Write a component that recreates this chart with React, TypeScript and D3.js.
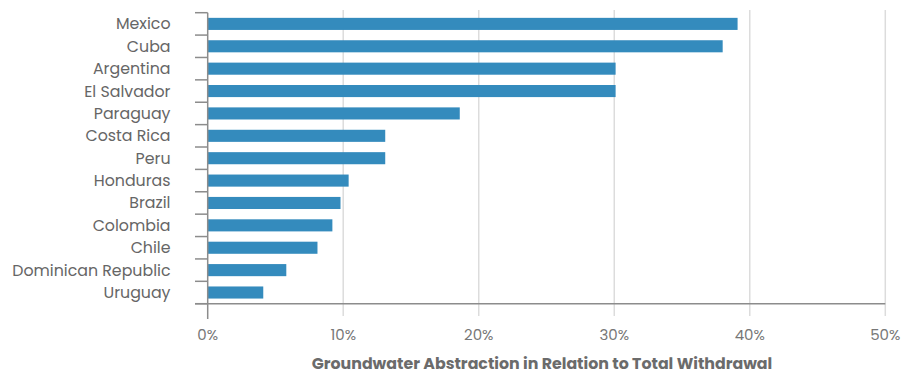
import React from "react";
import * as d3 from "d3";

const countries = [
  "Mexico",
  "Cuba",
  "Argentina",
  "El Salvador",
  "Paraguay",
  "Costa Rica",
  "Peru",
  "Honduras",
  "Brazil",
  "Colombia",
  "Chile",
  "Dominican Republic",
  "Uruguay",
];
const values = [39.1, 38.0, 30.1, 30.1, 18.6, 13.1, 13.1, 10.4, 9.8, 9.2, 8.1, 5.8, 4.1];
const xTicks = [0, 10, 20, 30, 40, 50];
const axisTitle = "Groundwater Abstraction in Relation to Total Withdrawal";

const W = 908;
const H = 375;
const FONT = "Poppins, 'Open Sans', Lato, 'DejaVu Sans', sans-serif";

export default function App() {
  const x = d3.scaleLinear().domain([0, 50]).range([207.7, 885.3]);
  const y = d3
    .scaleBand<string>()
    .domain(countries)
    .range([12.7, 303.7])
    .paddingInner(0.46)
    .paddingOuter(0.23);
  const step = y.step();
  const top = 12.7;
  const bottom = 303.7;
  const boundaries = d3.range(countries.length + 1).map((i) => top + i * step);

  return (
    <svg
      width={W}
      height={H}
      style={{ position: "absolute", left: 0, top: 0, background: "#fff" }}
      fontFamily={FONT}
    >
      {/* gridlines */}
      {xTicks.slice(1).map((t) => (
        <line
          key={"g" + t}
          x1={x(t)}
          x2={x(t)}
          y1={10}
          y2={316}
          stroke="#dcdcdc"
          strokeWidth={1.5}
        />
      ))}
      {/* bars */}
      {countries.map((c, i) => (
        <rect
          key={c}
          x={x(0)}
          y={y(c)}
          width={x(values[i]) - x(0)}
          height={y.bandwidth()}
          fill="#348bbd"
        />
      ))}
      {/* category ticks */}
      {boundaries.map((b, i) => (
        <line key={"t" + i} x1={195} x2={x(0)} y1={b} y2={b} stroke="#8c8c8c" strokeWidth={1.5} />
      ))}
      {/* y axis line */}
      <line x1={x(0)} x2={x(0)} y1={top} y2={319} stroke="#8c8c8c" strokeWidth={1.5} />
      {/* x axis line */}
      <line x1={195} x2={x(50)} y1={bottom} y2={bottom} stroke="#8c8c8c" strokeWidth={1.5} />
      {/* category labels */}
      {countries.map((c) => (
        <text
          key={"l" + c}
          x={170.5}
          y={(y(c) as number) + y.bandwidth() / 2}
          dy="0.35em"
          textAnchor="end"
          fontSize={15.8}
          fill="#666"
        >
          {c}
        </text>
      ))}
      {/* x tick labels */}
      {xTicks.map((t) => (
        <text
          key={"x" + t}
          x={x(t)}
          y={340}
          textAnchor="middle"
          fontSize={15}
          fill="#777"
        >
          {t + "%"}
        </text>
      ))}
      <text
        x={542}
        y={369}
        textAnchor="middle"
        fontSize={15.8}
        fontWeight="bold"
        fill="#6b6b6b"
      >
        {axisTitle}
      </text>
    </svg>
  );
}
